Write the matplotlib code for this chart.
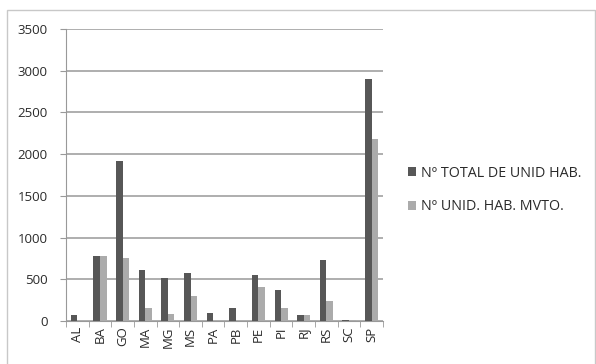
import numpy as np
import matplotlib.pyplot as plt
from matplotlib.patches import Rectangle

# Housing units per state
states = ['AL', 'BA', 'GO', 'MA', 'MG', 'MS', 'PA', 'PB', 'PE', 'PI', 'RJ', 'RS', 'SC', 'SP']
total_units = [70, 780, 1920, 610, 520, 580, 100, 160, 550, 370, 70, 730, 10, 2900]
mvto_units = [0, 780, 750, 150, 90, 300, 0, 0, 410, 150, 70, 240, 15, 2180]
series_names = ['Nº TOTAL DE UNID HAB.', 'Nº UNID. HAB. MVTO.']
yticks = [0, 500, 1000, 1500, 2000, 2500, 3000, 3500]

plt.rcParams['font.family'] = ['Open Sans', 'DejaVu Sans']

fig = plt.figure(figsize=(5.96, 3.64), dpi=100)
ax = fig.add_axes([0.1107, 0.1181, 0.5319, 0.8022])

# outer chart frame
fig.patches.append(Rectangle((7 / 596, -0.01), 588 / 596, 1 - 10 / 364 + 0.01,
                             transform=fig.transFigure, fill=False,
                             edgecolor='#c8c8c8', linewidth=1.0))

x = np.arange(len(states))
w = 0.29
ax.bar(x - w / 2, total_units, w, color='#575757', label=series_names[0], zorder=3)
ax.bar(x + w / 2, mvto_units, w, color='#ababab', label=series_names[1], zorder=3)

ax.set_xlim(-0.5, len(states) - 0.5)
ax.set_ylim(0, 3500)
ax.set_yticks(yticks)
ax.set_yticklabels([str(v) for v in yticks], fontsize=9.5, color='#2a2a2a')
ax.yaxis.grid(True, color='#999999', linewidth=1.1, zorder=0)

ax.set_xticks(x)
ax.set_xticklabels(states, rotation=90, fontsize=9.5, color='#2a2a2a')
ax.tick_params(axis='x', length=0, pad=4)
ax.set_xticks(np.arange(-0.5, len(states), 1), minor=True)
ax.tick_params(axis='x', which='minor', length=4, color='#999999')
ax.tick_params(axis='y', length=4, color='#999999', pad=9)

for side in ['top', 'right']:
    ax.spines[side].set_visible(False)
ax.spines['left'].set_color('#999999')
ax.spines['bottom'].set_color('#999999')

leg = fig.legend(loc='upper left', bbox_to_anchor=(0.663, 0.58), frameon=False,
                 fontsize=10.3, handlelength=0.55, handleheight=0.55,
                 handletextpad=0.35, labelspacing=1.3)
for t in leg.get_texts():
    t.set_color('#2a2a2a')

fig.savefig('out.png', dpi=100)
